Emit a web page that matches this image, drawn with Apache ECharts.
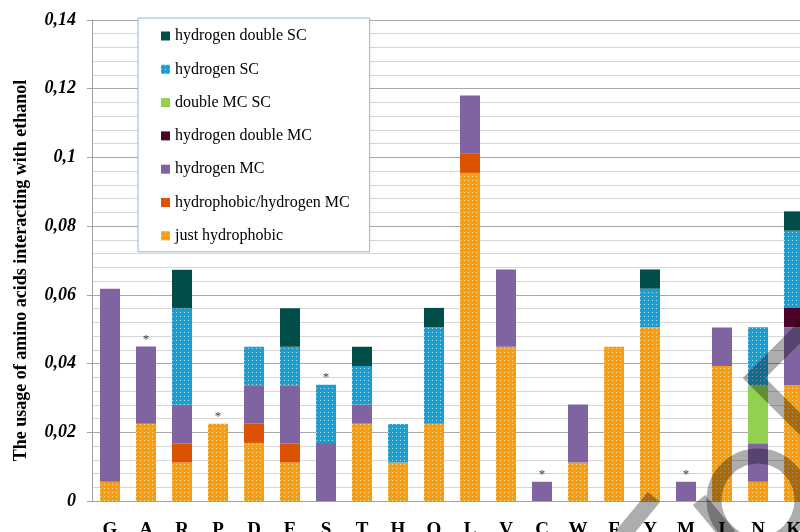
<!DOCTYPE html>
<html>
<head>
<meta charset="utf-8">
<script src="https://cdn.jsdelivr.net/npm/echarts@6/dist/echarts.min.js"></script>
<style>
  html, body { margin: 0; padding: 0; background: #fff; }
  #main { width: 800px; height: 532px; }
</style>
</head>
<body>
<div id="main"></div>
<script>
var chartDom = document.getElementById('main');
var myChart = echarts.init(chartDom);
var option;

// amino acids on the x axis
let aminoAcids = ['G', 'A', 'R', 'P', 'D', 'E', 'S', 'T', 'H', 'Q', 'L', 'V', 'C', 'W', 'F', 'Y', 'M', 'I', 'N', 'K'];

// stacked segments, bottom to top
let justHydrophobic   = [0.0056, 0.0225, 0.0112, 0.0225, 0.0169, 0.0112, 0, 0.0225, 0.0112, 0.0225, 0.0955, 0.0449, 0, 0.0112, 0.0449, 0.0506, 0, 0.0393, 0.0056, 0.0337];
let hydrophobicHydMC  = [0, 0, 0.0056, 0, 0.0056, 0.0056, 0, 0, 0, 0, 0.0056, 0, 0, 0, 0, 0, 0, 0, 0, 0];
let hydrogenMC        = [0.0562, 0.0225, 0.0112, 0, 0.0112, 0.0169, 0.0169, 0.0056, 0, 0, 0.0169, 0.0225, 0.0056, 0.0169, 0, 0, 0.0056, 0.0112, 0.0112, 0.0169];
let hydrogenDoubleMC  = [0, 0, 0, 0, 0, 0, 0, 0, 0, 0, 0, 0, 0, 0, 0, 0, 0, 0, 0, 0.0056];
let doubleMCSC        = [0, 0, 0, 0, 0, 0, 0, 0, 0, 0, 0, 0, 0, 0, 0, 0, 0, 0, 0.0169, 0];
let hydrogenSC        = [0, 0, 0.0281, 0, 0.0112, 0.0112, 0.0169, 0.0112, 0.0112, 0.0281, 0, 0, 0, 0, 0, 0.0112, 0, 0, 0.0169, 0.0225];
let hydrogenDoubleSC  = [0, 0, 0.0112, 0, 0, 0.0112, 0, 0.0056, 0, 0.0056, 0, 0, 0, 0, 0, 0.0056, 0, 0, 0, 0.0056];

// bars marked with an asterisk
let starred = ['A', 'P', 'S', 'C', 'M'];

let yTicks = [0, 0.02, 0.04, 0.06, 0.08, 0.1, 0.12, 0.14];

let serif = '"Liberation Serif", "DejaVu Serif", serif';

let dots = function (c) {
  return { symbol: 'rect', symbolSize: 1, color: c, dashArrayX: [1, 3], dashArrayY: [1, 3] };
};

let stacks = [
  { name: 'just hydrophobic', data: justHydrophobic, color: '#fb9d12', decal: dots('rgba(255,236,170,0.85)') },
  { name: 'hydrophobic/hydrogen MC', data: hydrophobicHydMC, color: '#db5202' },
  { name: 'hydrogen MC', data: hydrogenMC, color: '#8064a2' },
  { name: 'hydrogen double MC', data: hydrogenDoubleMC, color: '#4b0427' },
  { name: 'double MC SC', data: doubleMCSC, color: '#92d050' },
  { name: 'hydrogen SC', data: hydrogenSC, color: '#1b9fd3', decal: dots('rgba(210,240,255,0.85)') },
  { name: 'hydrogen double SC', data: hydrogenDoubleSC, color: '#014e48' }
];

let series = stacks.map(function (s) {
  let it = { color: s.color };
  if (s.decal) it.decal = s.decal;
  return {
    name: s.name,
    type: 'bar',
    stack: 'usage',
    data: s.data,
    barWidth: 20,
    itemStyle: it,
    emphasis: { disabled: true }
  };
});

// asterisks sit on top of the stacks
let starData = starred.map(function (c) {
  let i = aminoAcids.indexOf(c);
  let total = 0;
  stacks.forEach(function (s) { total += s.data[i]; });
  return [c, total];
});
series.push({
  type: 'scatter',
  data: starData,
  symbolSize: 1,
  itemStyle: { color: 'rgba(0,0,0,0)' },
  label: { show: true, position: 'top', distance: 0, formatter: '*', fontFamily: serif, fontSize: 13, color: '#000' },
  z: 5
});

option = {
  backgroundColor: '#fff',
  animation: false,
  grid: { left: 92, top: 20, width: 720, height: 481, containLabel: false, outerBoundsMode: 'none' },
  legend: {
    orient: 'vertical',
    left: 138,
    top: 18,
    icon: 'rect',
    padding: [10, 20, 8, 23],
    itemWidth: 9,
    itemHeight: 9,
    itemGap: 17.3,
    backgroundColor: '#fff',
    borderColor: '#95b3d7',
    borderWidth: 1,
    textStyle: { fontFamily: serif, fontSize: 16, lineHeight: 16, color: '#000' },
    data: ['hydrogen double SC', 'hydrogen SC', 'double MC SC', 'hydrogen double MC', 'hydrogen MC', 'hydrophobic/hydrogen MC', 'just hydrophobic']
  },
  xAxis: {
    type: 'category',
    data: aminoAcids,
    axisLine: { lineStyle: { color: '#a0a0a0' } },
    axisTick: { show: false },
    axisLabel: { margin: 20, fontFamily: serif, fontWeight: 'bold', fontSize: 19, color: '#000' }
  },
  yAxis: {
    type: 'value',
    min: yTicks[0],
    max: yTicks[yTicks.length - 1],
    interval: 0.02,
    name: 'The usage of amino acids interacting with ethanol',
    nameLocation: 'middle',
    nameGap: 62,
    nameTextStyle: { fontFamily: serif, fontWeight: 'bold', fontSize: 18, color: '#000', padding: [0, 20, 0, 0] },
    axisLine: { show: true, lineStyle: { color: '#a0a0a0' } },
    axisTick: { show: true, length: 5, lineStyle: { color: '#a0a0a0' } },
    axisLabel: {
      margin: 16,
      fontFamily: serif,
      fontWeight: 'bold',
      fontStyle: 'italic',
      fontSize: 18,
      color: '#000',
      formatter: function (v) { return String(+v.toFixed(2)).replace('.', ','); }
    },
    splitLine: { lineStyle: { color: '#a8a8a8' } },
    minorTick: { show: false, splitNumber: 5 },
    minorSplitLine: { show: true, lineStyle: { color: '#d6d6d6' } }
  },
  graphic: [
    { type: 'polyline', z: 100, silent: true, shape: { points: [[814, 318], [754, 378], [814, 438]] }, style: { fill: null, stroke: 'rgba(0,0,0,0.32)', lineWidth: 16, lineJoin: 'miter' } },
    { type: 'circle', z: 100, silent: true, shape: { cx: 758, cy: 500, r: 44 }, style: { fill: null, stroke: 'rgba(0,0,0,0.32)', lineWidth: 15 } },
    { type: 'line', z: 100, silent: true, shape: { x1: 654, y1: 497, x2: 620, y2: 538 }, style: { stroke: 'rgba(0,0,0,0.32)', lineWidth: 16 } },
    { type: 'line', z: 100, silent: true, shape: { x1: 699, y1: 500, x2: 729, y2: 536 }, style: { stroke: 'rgba(0,0,0,0.32)', lineWidth: 16 } }
  ],
  series: series
};

option && myChart.setOption(option);
</script>
</body>
</html>
